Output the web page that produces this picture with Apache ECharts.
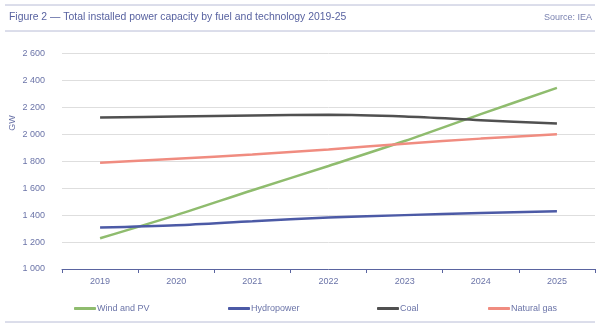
<!DOCTYPE html>
<html>
<head>
<meta charset="utf-8">
<script src="https://cdn.jsdelivr.net/npm/echarts@6/dist/echarts.min.js"></script>
<style>
  html, body { margin: 0; padding: 0; background: #fff; }
  #chart { width: 600px; height: 330px; }
</style>
</head>
<body>
<div id="chart"></div>
<script>
// Installed capacity (GW) by fuel and technology
const years = ['2019', '2020', '2021', '2022', '2023', '2024', '2025'];
const windPV = [1228, 1400, 1585, 1765, 1950, 2150, 2345];
const hydro = [1308, 1325, 1355, 1383, 1400, 1415, 1428];
const coal = [2125, 2132, 2140, 2145, 2132, 2105, 2080];
const gas = [1788, 1818, 1850, 1888, 1930, 1968, 2000];
const yTicks = { min: 1000, max: 2600, step: 200 };

const names = ['Wind and PV', 'Hydropower', 'Coal', 'Natural gas'];
const colors = ['#8fbc6e', '#4c5aa6', '#505050', '#f08c80'];
const values = [windPV, hydro, coal, gas];
const legendLeft = [69, 223, 372, 483];

const txt = '#6b74a8';
const narrow = '"Liberation Sans Narrow", "Liberation Sans", Arial, sans-serif';
const regular = '"Liberation Sans", Arial, sans-serif';

const chart = echarts.init(document.getElementById('chart'), null, { renderer: 'canvas' });

chart.setOption({
  animation: false,
  textStyle: { fontFamily: narrow },
  graphic: [
    { type: 'line', shape: { x1: 5, y1: 5, x2: 595, y2: 5 }, style: { stroke: '#b8bcd6', lineWidth: 1 } },
    { type: 'line', shape: { x1: 5, y1: 31, x2: 595, y2: 31 }, style: { stroke: '#b8bcd6', lineWidth: 1 } },
    { type: 'line', shape: { x1: 5, y1: 322, x2: 595, y2: 322 }, style: { stroke: '#b8bcd6', lineWidth: 1 } },
    { type: 'text', left: 9, top: 12, style: { text: 'Figure 2 — Total installed power capacity by fuel and technology 2019-25', fill: '#5862a0', font: '10.4px ' + regular } },
    { type: 'text', right: 8, top: 13, style: { text: 'Source: IEA', fill: '#7a82b0', font: '9px ' + narrow } },
    { type: 'text', x: 13, y: 123, rotation: Math.PI / 2, style: { text: 'GW', fill: txt, font: '9px ' + narrow, align: 'center', verticalAlign: 'middle' } }
  ],
  legend: names.map((n, i) => ({
    data: [n],
    left: legendLeft[i],
    top: 299,
    icon: 'roundRect',
    itemWidth: 22,
    itemHeight: 3,
    itemGap: 0,
    itemStyle: { borderWidth: 0 },
    textStyle: { color: txt, fontSize: 9, padding: [0, 0, 0, -4] }
  })),
  grid: { left: 62, right: 5, top: 53.5, bottom: 61, containLabel: false },
  xAxis: {
    type: 'category',
    data: years,
    boundaryGap: true,
    axisLine: { lineStyle: { color: '#5a64a0', width: 1 } },
    axisTick: { show: true, length: 4, lineStyle: { color: '#5a64a0' } },
    axisLabel: { color: txt, fontSize: 9, margin: 8 },
    splitLine: { show: false }
  },
  yAxis: {
    type: 'value',
    min: yTicks.min,
    max: yTicks.max,
    interval: yTicks.step,
    axisLine: { show: false },
    axisTick: { show: false },
    axisLabel: {
      color: txt, fontSize: 9, margin: 17,
      formatter: v => String(v).replace(/\B(?=(\d{3})+(?!\d))/g, ' ')
    },
    splitLine: { lineStyle: { color: '#dedede', width: 1 } }
  },
  series: names.map((n, i) => ({
    name: n,
    type: 'line',
    data: values[i],
    smooth: 0.3,
    symbol: 'none',
    lineStyle: { color: colors[i], width: 2.5 },
    itemStyle: { color: colors[i] }
  }))
});
</script>
</body>
</html>
